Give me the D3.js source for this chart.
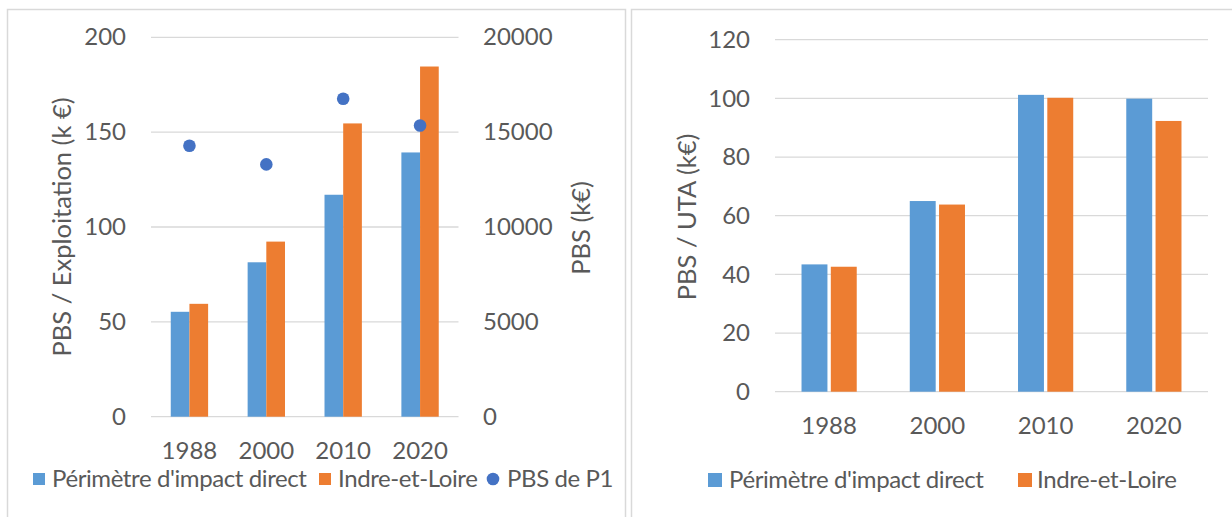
<!DOCTYPE html>
<html>
<head>
<meta charset="utf-8">
<script src="https://cdn.jsdelivr.net/npm/d3@7"></script>
<style>
  html, body { margin: 0; padding: 0; background: #fff; }
  svg { display: block; }
  text { font-family: Lato, "Noto Sans", sans-serif; fill: #595959; }
  .legend text { letter-spacing: -0.4px; }
</style>
</head>
<body>
<svg id="chart" width="1232" height="517"></svg>
<script>
// Census years shown on both panels
const years = ["1988", "2000", "2010", "2020"];
const seriesNames = ["Périmètre d'impact direct", "Indre-et-Loire"];
const pointName = "PBS de P1";

// Left panel: PBS per farm (k€), bars on the left axis
const pbsExploitationPerimetre = [55.3, 81.4, 117.0, 139.3];
const pbsExploitationIndre = [59.5, 92.3, 154.6, 184.6];
// Left panel: total PBS of P1 (k€), points on the right axis
const pbsP1 = [14280, 13300, 16760, 15350];

// Right panel: PBS per UTA (k€)
const pbsUtaPerimetre = [43.4, 65.0, 101.2, 99.9];
const pbsUtaIndre = [42.6, 63.8, 100.2, 92.3];

// Tick labels
const leftTicks = [0, 50, 100, 150, 200];
const rightTicks = [0, 5000, 10000, 15000, 20000];
const utaTicks = [0, 20, 40, 60, 80, 100, 120];

const colors = { blue: "#5B9BD5", orange: "#ED7D31", dot: "#4472C4", grid: "#D9D9D9" };
const FONT = 24;
const TITLE_FONT = 25.5;

const svg = d3.select("#chart");

// Panel frames
svg.append("rect").attr("x", 7.5).attr("y", 9.5).attr("width", 618).attr("height", 520)
  .attr("fill", "none").attr("stroke", colors.grid).attr("stroke-width", 1.5);
svg.append("rect").attr("x", 631.5).attr("y", 9.5).attr("width", 620).attr("height", 520)
  .attr("fill", "none").attr("stroke", colors.grid).attr("stroke-width", 1.5);

function gridlines(g, y, ticks, x0, x1) {
  g.selectAll(null).data(ticks).join("line")
    .attr("x1", x0).attr("x2", x1)
    .attr("y1", d => y(d)).attr("y2", d => y(d))
    .attr("stroke", colors.grid).attr("stroke-width", 1.3);
}

function axisLabels(g, axis, x) {
  const a = g.append("g").attr("transform", `translate(${x},0)`).call(axis);
  a.select(".domain").remove();
  a.selectAll(".tick line").remove();
  a.selectAll("text").attr("font-size", FONT).attr("fill", "#595959");
  a.attr("font-family", null).attr("font-size", null);
  return a;
}

// ---------- Left panel ----------
{
  const g = svg.append("g");
  const x = d3.scaleBand().domain(years).range([151, 458.5]);
  const inner = d3.scaleBand().domain(seriesNames)
    .range([x.bandwidth() * 0.257, x.bandwidth() * 0.743]);
  const y = d3.scaleLinear().domain([0, 200]).range([416.7, 37.3]);
  const y2 = d3.scaleLinear().domain([0, 20000]).range([416.7, 37.3]);

  gridlines(g, y, leftTicks, 151, 458.5);

  const rows = years.map((yr, i) => ({ yr, vals: [pbsExploitationPerimetre[i], pbsExploitationIndre[i]] }));
  g.selectAll(".grp").data(rows).join("g")
    .attr("transform", d => `translate(${x(d.yr)},0)`)
    .selectAll("rect").data(d => d.vals.map((v, k) => ({ v, name: seriesNames[k] })))
    .join("rect")
    .attr("x", d => inner(d.name)).attr("width", inner.bandwidth())
    .attr("y", d => y(d.v)).attr("height", d => y(0) - y(d.v))
    .attr("fill", (d, k) => k === 0 ? colors.blue : colors.orange);

  g.selectAll(".pt").data(years).join("circle")
    .attr("cx", (d) => x(d) + x.bandwidth() / 2)
    .attr("cy", (d, i) => y2(pbsP1[i]))
    .attr("r", 6.3).attr("fill", colors.dot);

  axisLabels(g, d3.axisLeft(y).tickValues(leftTicks).tickSize(0).tickPadding(0), 126);
  axisLabels(g, d3.axisRight(y2).tickValues(rightTicks).tickFormat(d3.format("d")).tickSize(0).tickPadding(0), 483);
  const xa = axisLabels(g, d3.axisBottom(x).tickSize(0).tickPadding(0), 0);
  xa.attr("transform", "translate(0,442)");

  g.append("text").attr("transform", "translate(71,227) rotate(-90)")
    .attr("text-anchor", "middle").attr("font-size", TITLE_FONT).text("PBS / Exploitation (k €)");
  g.append("text").attr("transform", "translate(590,228) rotate(-90)")
    .attr("text-anchor", "middle").attr("font-size", TITLE_FONT).text("PBS (k€)");

  // Legend
  const ly = 479;
  const lg = g.append("g").attr("class", "legend");
  lg.append("rect").attr("x", 33).attr("y", ly - 6).attr("width", 12).attr("height", 12).attr("fill", colors.blue);
  lg.append("text").attr("x", 52).attr("y", ly).attr("dy", "0.35em").attr("font-size", FONT).text(seriesNames[0]);
  lg.append("rect").attr("x", 319).attr("y", ly - 6).attr("width", 12).attr("height", 12).attr("fill", colors.orange);
  lg.append("text").attr("x", 338).attr("y", ly).attr("dy", "0.35em").attr("font-size", FONT).text(seriesNames[1]);
  lg.append("circle").attr("cx", 493).attr("cy", ly).attr("r", 6.3).attr("fill", colors.dot);
  lg.append("text").attr("x", 507).attr("y", ly).attr("dy", "0.35em").attr("font-size", FONT).text(pointName);
}

// ---------- Right panel ----------
{
  const g = svg.append("g");
  const x = d3.scaleBand().domain(years).range([775, 1208]);
  const inner = d3.scaleBand().domain(seriesNames)
    .range([x.bandwidth() * 0.245, x.bandwidth() * 0.755]).paddingInner(0.115);
  const y = d3.scaleLinear().domain([0, 120]).range([391.7, 39.7]);

  gridlines(g, y, utaTicks, 775, 1208);

  const rows = years.map((yr, i) => ({ yr, vals: [pbsUtaPerimetre[i], pbsUtaIndre[i]] }));
  g.selectAll(".grp").data(rows).join("g")
    .attr("transform", d => `translate(${x(d.yr)},0)`)
    .selectAll("rect").data(d => d.vals.map((v, k) => ({ v, name: seriesNames[k] })))
    .join("rect")
    .attr("x", d => inner(d.name)).attr("width", inner.bandwidth())
    .attr("y", d => y(d.v)).attr("height", d => y(0) - y(d.v))
    .attr("fill", (d, k) => k === 0 ? colors.blue : colors.orange);

  axisLabels(g, d3.axisLeft(y).tickValues(utaTicks).tickSize(0).tickPadding(0), 750);
  const xa = axisLabels(g, d3.axisBottom(x).tickSize(0).tickPadding(0), 0);
  xa.attr("transform", "translate(0,417)");

  g.append("text").attr("transform", "translate(696,217) rotate(-90)")
    .attr("text-anchor", "middle").attr("font-size", TITLE_FONT).text("PBS / UTA (k€)");

  const ly = 480;
  const lg = g.append("g").attr("class", "legend");
  lg.append("rect").attr("x", 708).attr("y", ly - 7).attr("width", 14).attr("height", 14).attr("fill", colors.blue);
  lg.append("text").attr("x", 729).attr("y", ly).attr("dy", "0.35em").attr("font-size", FONT).text(seriesNames[0]);
  lg.append("rect").attr("x", 1018).attr("y", ly - 7).attr("width", 14).attr("height", 14).attr("fill", colors.orange);
  lg.append("text").attr("x", 1037).attr("y", ly).attr("dy", "0.35em").attr("font-size", FONT).text(seriesNames[1]);
}
</script>
</body>
</html>
